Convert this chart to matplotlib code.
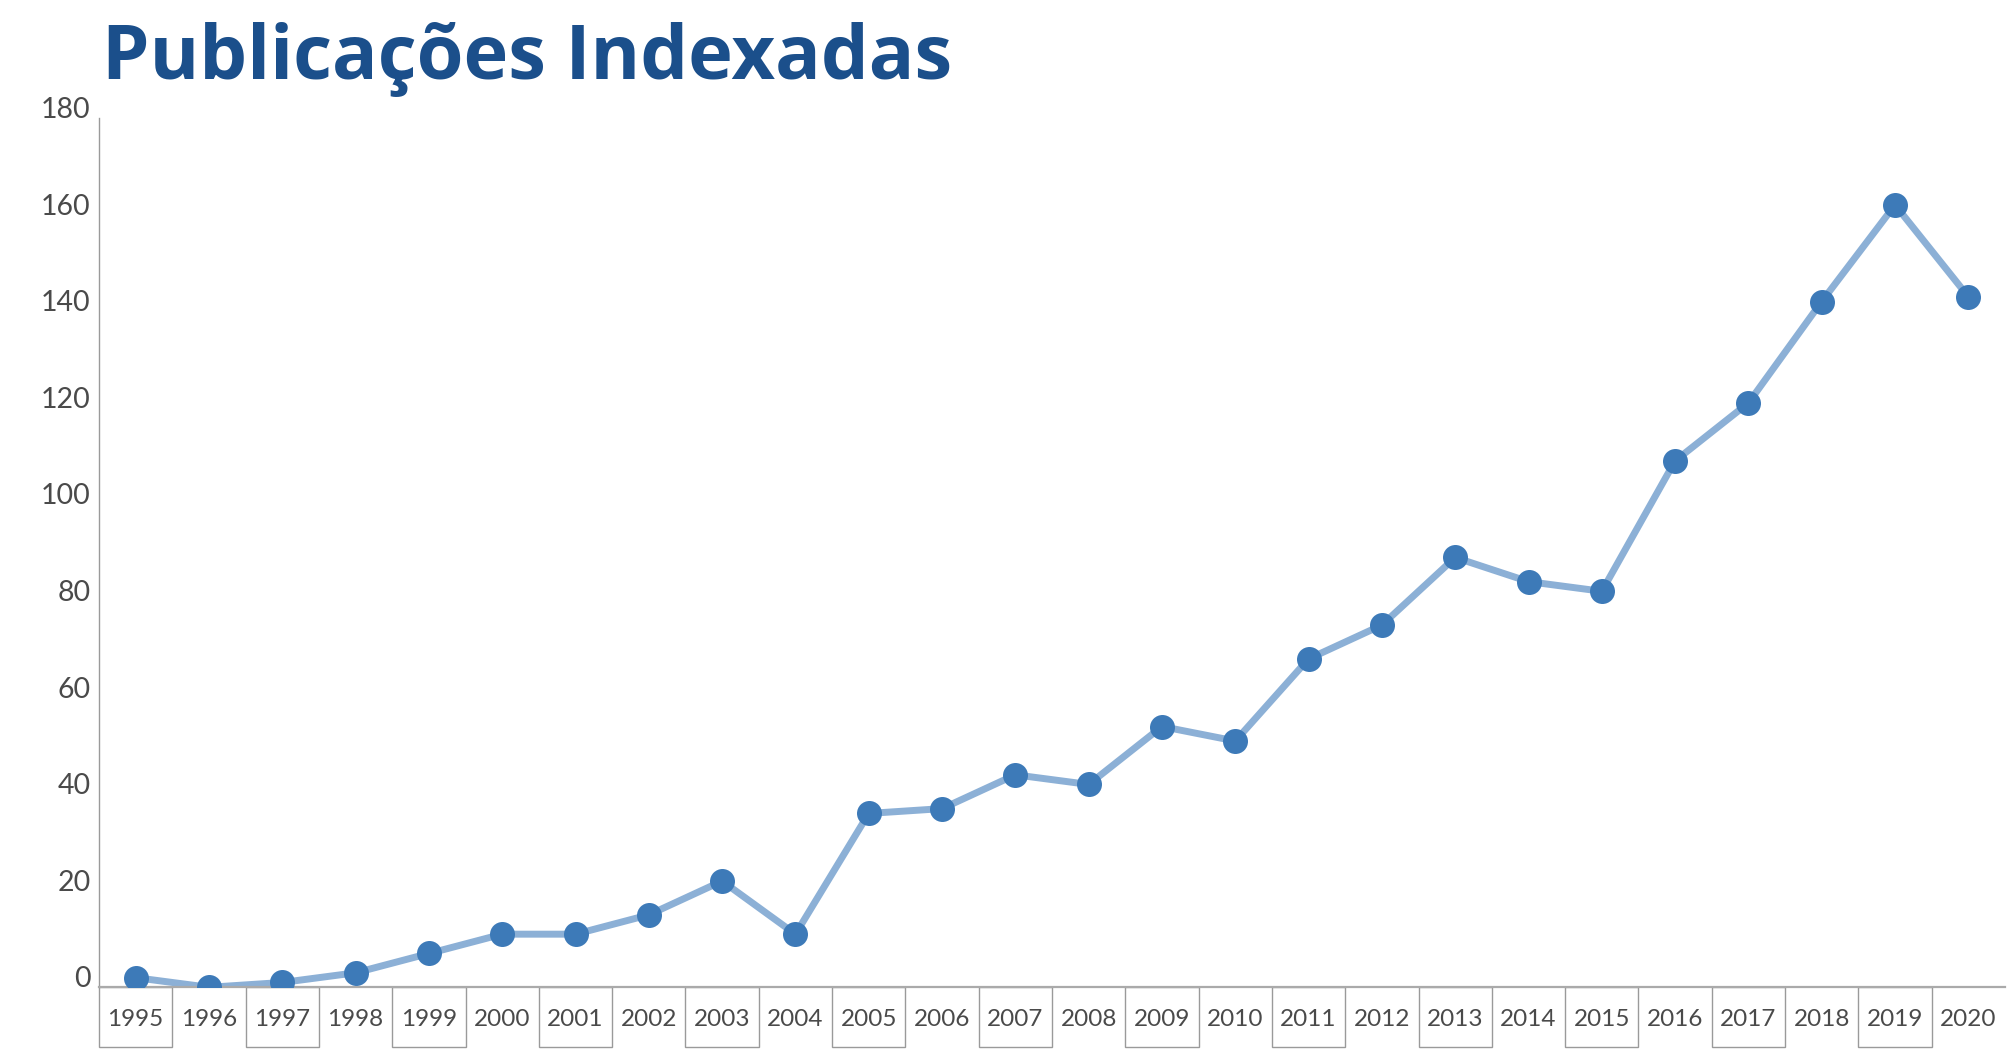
import matplotlib
matplotlib.use("Agg")
import matplotlib.pyplot as plt
from matplotlib.patches import Rectangle
import matplotlib.transforms as mtransforms

years = ["1995", "1996", "1997", "1998", "1999", "2000", "2001", "2002", "2003",
         "2004", "2005", "2006", "2007", "2008", "2009", "2010", "2011", "2012",
         "2013", "2014", "2015", "2016", "2017", "2018", "2019", "2020"]
publicacoes = [2, 0, 1, 3, 7, 11, 11, 15, 22, 11, 36, 37, 44, 42, 54, 51, 68,
               75, 89, 84, 82, 109, 121, 142, 162, 143]
yticks = [0, 20, 40, 60, 80, 100, 120, 140, 160, 180]
title = "Publicações Indexadas"

W, H, DPI = 2011, 1054, 100
fig = plt.figure(figsize=(W / DPI, H / DPI), dpi=DPI)
fig.patch.set_facecolor("white")

ax_left, ax_right = 99 / W, 2005 / W
ax_bottom, ax_top = (H - 987.3) / H, (H - 118) / H
ax = fig.add_axes([ax_left, ax_bottom, ax_right - ax_left, ax_top - ax_bottom])

x = list(range(len(years)))
ax.plot(x, publicacoes, color="#8cb0d6", lw=5.0, zorder=2, solid_capstyle="round")
ax.plot(x, publicacoes, ls="none", marker="o", ms=18, mfc="#3d7ab8",
        mec="#3d7ab8", mew=0, zorder=3)

ax.set_xlim(-0.5, len(years) - 0.5)
ax.set_ylim(0, 180)

for s in ["top", "right"]:
    ax.spines[s].set_visible(False)
ax.spines["left"].set_color("#9a9a9a")
ax.spines["left"].set_linewidth(1.0)
ax.spines["bottom"].set_color("#aaaaaa")
ax.spines["bottom"].set_linewidth(1.6)

tick_font = "Lato"
ax.set_yticks(yticks)
ax.set_yticklabels([str(v) for v in yticks], fontsize=20.5, color="#4a4a4a",
                   family=tick_font, fontweight="normal")
for lbl in ax.get_yticklabels():
    lbl.set_va("baseline")
ax.tick_params(axis="y", length=0, pad=6)

ax.set_xticks(x)
ax.set_xticklabels(years, fontsize=17.5, color="#4a4a4a", family=tick_font,
                   fontweight="normal")
for lbl in ax.get_xticklabels():
    lbl.set_va("center")
ax.tick_params(axis="x", length=0, pad=23.5)

# boxed category labels (every other year)
trans = mtransforms.blended_transform_factory(ax.transData, ax.transAxes)
box_h = 60 / (987.3 - 118)
for i in range(len(years)):
    if i % 2 == 0:
        r = Rectangle((i - 0.5, -box_h), 1.0, box_h, transform=trans,
                      fill=False, edgecolor="#9a9a9a", lw=1.0, clip_on=False)
        ax.add_patch(r)

fig.text(102 / W, (H - 79) / H, title, fontsize=54.5, fontweight="bold",
         color="#1b4f8b", family="Open Sans", va="baseline", ha="left")

fig.savefig("out.png", dpi=DPI, facecolor="white")
